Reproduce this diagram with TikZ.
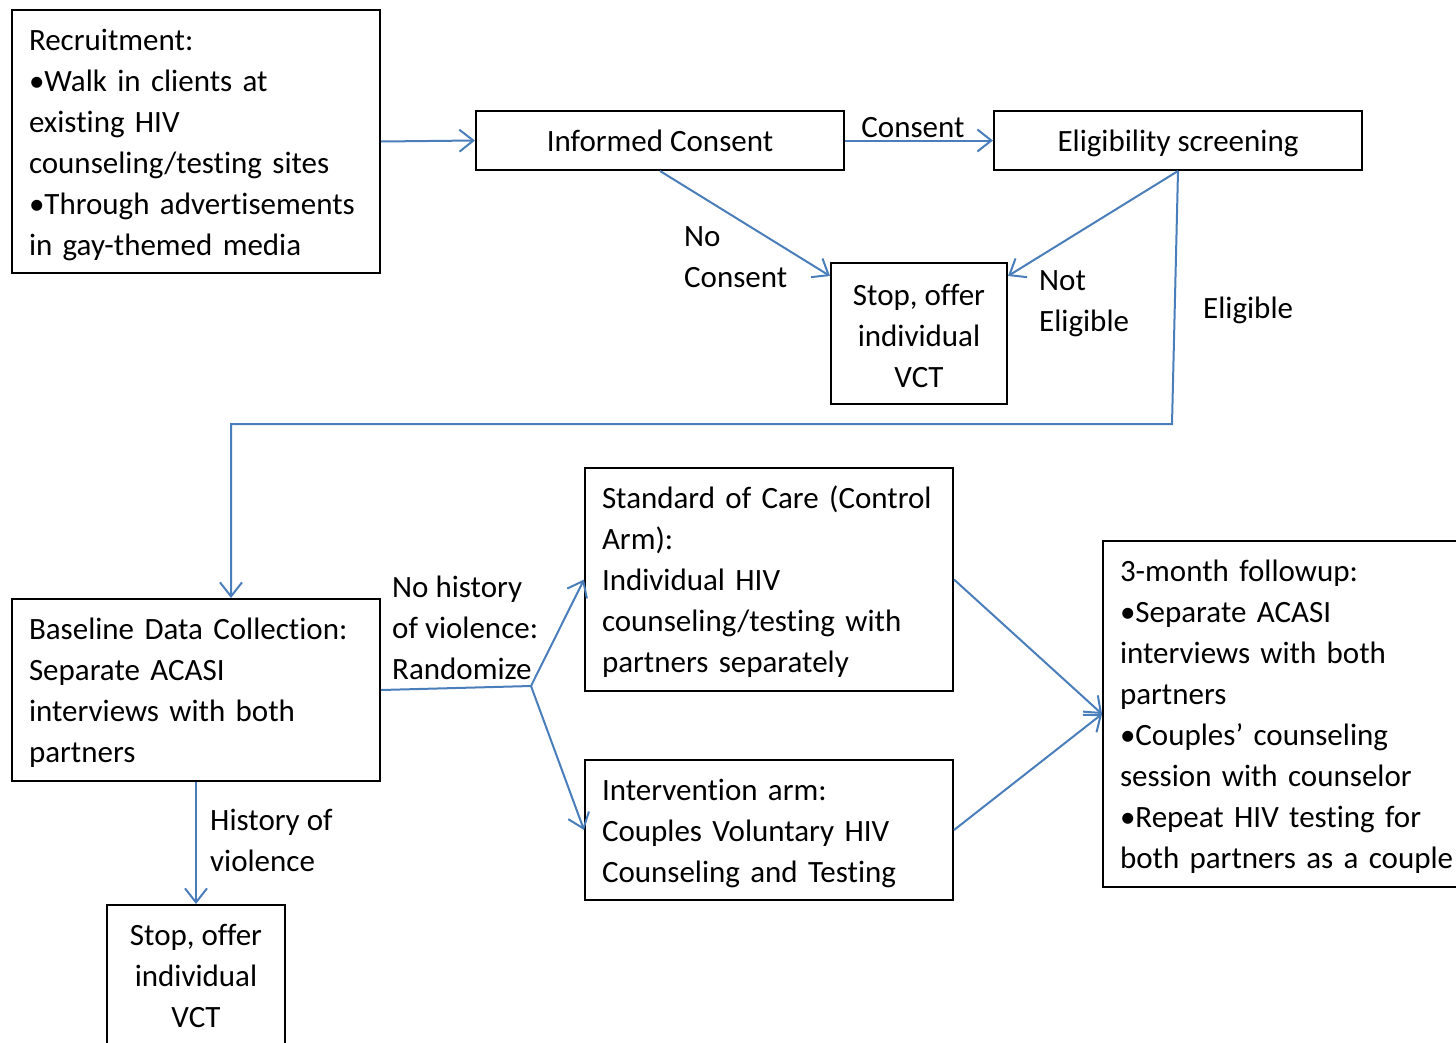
\documentclass[tikz,border=0pt]{standalone}
\usepackage{fontspec}
\setmainfont{Carlito}[Ligatures=NoCommon]
\usetikzlibrary{arrows.meta,calc}
\definecolor{lineblue}{HTML}{4A7EBB}
\tikzset{
  basebox/.style={draw=black, line width=2pt, rectangle, inner xsep=17pt, inner ysep=0pt,
    font=\fontsize{31}{41}\selectfont},
  box/.style={basebox, execute at begin node={\rule{0pt}{35pt}}, execute at end node=\strut},
  lbox/.style={box, align=left, text width=334pt},
  cbox/.style={box, align=center},
  sbox/.style={basebox, align=center},
  lbl/.style={inner sep=0pt, align=left, font=\fontsize{31}{41}\selectfont,
    execute at begin node=\strut, execute at end node=\strut},
  conn/.style={draw=lineblue, line width=2pt, -{Straight Barb[length=14pt,width=22pt,line width=2pt]}},
  plain/.style={draw=lineblue, line width=2pt}
}
\begin{document}
\begin{tikzpicture}[x=1pt,y=-1pt]
\useasboundingbox (0,0) rectangle (1456,1042);
\node[lbox, minimum width=368pt, minimum height=263pt] (rec) at (196,141.5)
  {Recruitment:\\•Walk in clients at\\existing HIV\\counseling/testing sites\\•Through advertisements\\in gay-themed media};
\node[cbox, minimum width=368pt, minimum height=59pt] (ic) at (660,140.5) {Informed Consent};
\node[cbox, minimum width=368pt, minimum height=59pt] (es) at (1178,140.5) {Eligibility screening};
\node[sbox, minimum width=176pt, minimum height=141pt] (s1) at (919,333.5) {\rule{0pt}{27pt}Stop, offer\\individual\\VCT};
\node[lbox, minimum width=368pt, minimum height=182pt] (bl) at (196,690)
  {Baseline Data Collection:\\Separate ACASI\\interviews with both\\partners};
\node[lbox, minimum width=368pt, minimum height=223pt] (std) at (769,579.5)
  {Standard of Care (Control\\Arm):\\Individual HIV\\counseling/testing with\\partners separately};
\node[lbox, minimum width=368pt, minimum height=140pt] (iv) at (769,830)
  {Intervention arm:\\Couples Voluntary HIV\\Counseling and Testing};
\node[lbox, minimum width=368pt, minimum height=346pt] (fu) at (1287,714)
  {3-month followup:\\•Separate ACASI\\interviews with both\\partners\\•Couples’ counseling\\session with counselor\\•Repeat HIV testing for\\both partners as a couple};
\node[sbox, minimum width=178pt, minimum height=142pt] (s2) at (196,976) {\rule{0pt}{21pt}Stop, offer\\individual\\VCT};

% labels
\node[lbl, anchor=north] (lcons) at (913,108.5) {Consent};
\node[lbl, anchor=north west] (lnocons) at (684,226.5) {No\\Consent};
\node[lbl, anchor=north west] (lnotel) at (1039,270) {Not\\Eligible};
\node[lbl, anchor=north west] (lel) at (1203,289.5) {Eligible};
\node[lbl, anchor=north west] (lnohist) at (392,575.5) {No history\\of violence:\\Randomize};
\node[lbl, anchor=north west] (lhist) at (210,808.5) {History of\\violence};

% coordinates
\coordinate (e1) at (1172,424);
\coordinate (e2) at (231,424);
\coordinate (split) at (531,686);

% connectors
\draw[conn] (rec.east) -- (ic.west);
\draw[conn] (ic.east) -- (es.west);
\draw[conn] (ic.south) -- ($(s1.north west)+(0,14)$);
\draw[conn] (es.south) -- ($(s1.north east)+(0,14)$);
\draw[conn] (es.south) -- (e1) -- (e2) -- (e2 |- bl.north);
\draw[plain] (bl.east) -- (split);
\draw[conn] (split) -- (std.west);
\draw[conn] (split) -- (iv.west);
\draw[conn] (bl.south) -- (s2.north);
\draw[conn] (std.east) -- (fu.west);
\draw[conn] (iv.east) -- (fu.west);
\end{tikzpicture}
\end{document}
